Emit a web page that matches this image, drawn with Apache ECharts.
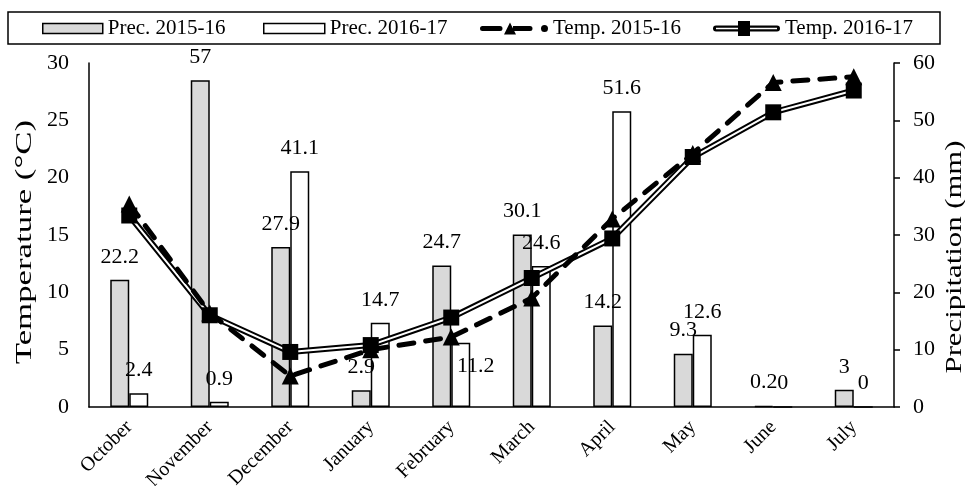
<!DOCTYPE html>
<html>
<head>
<meta charset="utf-8">
<script src="https://cdn.jsdelivr.net/npm/echarts@6/dist/echarts.min.js"></script>
<style>html,body{margin:0;padding:0;background:#fff}#c{width:965px;height:486px}</style>
</head>
<body>
<div id="c"></div>
<script>
const months = ['October','November','December','January','February','March','April','May','June','July'];
const prec1516 = [22.2, 57, 27.9, 2.9, 24.7, 30.1, 14.2, 9.3, 0.2, 3];
const prec1617 = [2.4, 0.9, 41.1, 14.7, 11.2, 24.6, 51.6, 12.6, 0, 0];
const temp1516 = [17.7, 8.2, 2.7, 5.0, 6.1, 9.5, 16.4, 22.1, 28.3, 28.8];
const temp1617 = [16.7, 8.0, 4.8, 5.4, 7.8, 11.25, 14.7, 21.8, 25.7, 27.6];
const tempTicks = [0, 30, 5];
const precTicks = [0, 60, 10];

const FONT = 'Liberation Serif';
const chart = echarts.init(document.getElementById('c'), null, {renderer: 'canvas'});

const labelBase = {show: true, position: 'top', distance: 12, color: '#000', fontFamily: FONT, fontSize: 22};
const prec1617Data = prec1617.map((v, i) => i === 4 ? {value: v, label: {position: 'insideTop', distance: 12, offset: [15, 0]}} : v);

const iconTemp1516 = 'path://M2.5,3.5 L20,3.5 A2.5,2.5 0 0 1 20,8.5 L2.5,8.5 A2.5,2.5 0 0 1 2.5,3.5 Z M24,12 L30,0 L36,12 Z M33,3.5 L50,3.5 A2.5,2.5 0 0 1 50,8.5 L33,8.5 Z M68,6 A3.5,3.5 0 1 1 61,6 A3.5,3.5 0 1 1 68,6 Z';
const iconTemp1617 = 'path://M3,4.5 L64,4.5 A3,3 0 0 1 64,10.5 L3,10.5 A3,3 0 0 1 3,4.5 Z M3,6.8 L3,8.2 L64,8.2 L64,6.8 Z M25,0 L37,0 L37,15 L25,15 Z';

const legendText = {fontFamily: FONT, fontSize: 21, color: '#000'};
function mkLegend(name, left, w, h, icon, style, top) {
  return {
    data: [{name: name, icon: icon, itemStyle: style}],
    left: left, top: top, padding: 0, itemWidth: w, itemHeight: h,
    textStyle: legendText, selectedMode: false
  };
}

const option = {
  animation: false,
  backgroundColor: '#fff',
  graphic: [
    {type: 'rect', shape: {x: 8, y: 12, width: 932, height: 32}, style: {fill: 'none', stroke: '#000', lineWidth: 1.5}, z: 0},
    {type: 'text', x: 25, y: 242, rotation: Math.PI / 2, scaleX: 1.45,
     style: {text: 'Temperature (°C)', fontFamily: FONT, fontSize: 24, fill: '#000', align: 'center', verticalAlign: 'middle'}},
    {type: 'text', x: 955, y: 257, rotation: Math.PI / 2, scaleX: 1.28,
     style: {text: 'Precipitation (mm)', fontFamily: FONT, fontSize: 24, fill: '#000', align: 'center', verticalAlign: 'middle'}}
  ],
  legend: [
    mkLegend('Prec. 2015-16', 42, 60, 10, 'rect', {color: '#d9d9d9', borderColor: '#000', borderWidth: 1.5}, 18),
    mkLegend('Prec. 2016-17', 263, 61, 10, 'rect', {color: '#fff', borderColor: '#000', borderWidth: 1.5}, 18),
    mkLegend('Temp. 2015-16', 480, 68, 12, iconTemp1516, {color: '#000', borderWidth: 0}, 18),
    mkLegend('Temp. 2016-17', 713, 67, 15, iconTemp1617, {color: '#000', borderWidth: 0}, 18)
  ],
  grid: {left: 89, right: 71, top: 63, bottom: 79, containLabel: false, outerBoundsMode: 'none'},
  xAxis: {
    type: 'category', data: months,
    axisLine: {show: true, lineStyle: {color: '#000', width: 1.5}},
    axisTick: {show: false},
    axisLabel: {rotate: 45, margin: 17, color: '#000', fontFamily: FONT, fontSize: 20, interval: 0}
  },
  yAxis: [
    {type: 'value', min: tempTicks[0], max: tempTicks[1], interval: tempTicks[2], position: 'left',
     axisLine: {show: true, lineStyle: {color: '#000', width: 1.5}}, axisTick: {show: false}, splitLine: {show: false},
     axisLabel: {margin: 20, color: '#000', fontFamily: FONT, fontSize: 22}},
    {type: 'value', min: precTicks[0], max: precTicks[1], interval: precTicks[2], position: 'right',
     axisLine: {show: true, lineStyle: {color: '#000', width: 1.5}},
     axisTick: {show: true, inside: false, length: 6, lineStyle: {color: '#000', width: 1.5}}, splitLine: {show: false},
     axisLabel: {margin: 19, color: '#000', fontFamily: FONT, fontSize: 22}}
  ],
  series: [
    {name: 'Prec. 2015-16', type: 'bar', yAxisIndex: 1, data: prec1516, barWidth: 19, barGap: '0%',
     itemStyle: {color: '#d9d9d9', borderColor: '#000', borderWidth: 1.5}, label: labelBase, z: 2},
    {name: 'Prec. 2016-17', type: 'bar', yAxisIndex: 1, data: prec1617Data, barWidth: 19, barGap: '0%',
     itemStyle: {color: '#fff', borderColor: '#000', borderWidth: 1.5}, label: labelBase, z: 2},
    {name: 'Temp. 2016-17', type: 'line', yAxisIndex: 0, data: temp1617, showSymbol: false, symbol: 'none',
     lineStyle: {color: '#000', width: 6}, itemStyle: {color: '#000'}, z: 3},
    {name: 'Temp. 2016-17 inner', type: 'line', yAxisIndex: 0, data: temp1617, showSymbol: false, symbol: 'none',
     lineStyle: {color: '#fff', width: 2}, itemStyle: {color: '#fff'}, z: 4, silent: true},
    {name: 'Temp. 2015-16', type: 'line', yAxisIndex: 0, data: temp1516, symbol: 'triangle', symbolSize: [17, 17],
     lineStyle: {color: '#000', width: 5, type: [15, 12], cap: 'round'}, itemStyle: {color: '#000'}, z: 5},
    {name: 'Temp. 2016-17 markers', type: 'line', yAxisIndex: 0, data: temp1617, symbol: 'rect', symbolSize: 16,
     lineStyle: {width: 0, opacity: 0}, itemStyle: {color: '#000'}, z: 6, silent: true}
  ]
};
chart.setOption(option);
</script>
</body>
</html>
